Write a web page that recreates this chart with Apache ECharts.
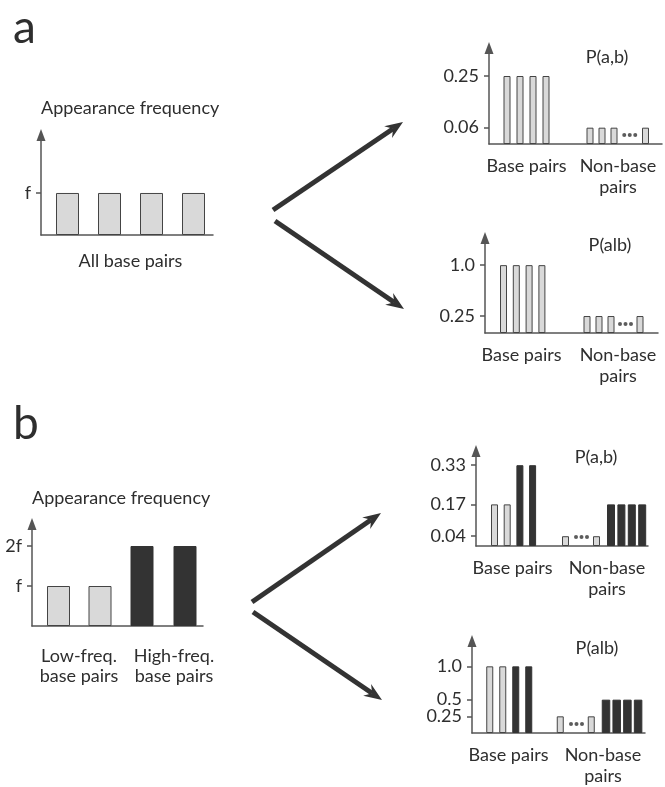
<!DOCTYPE html>
<html>
<head>
<meta charset="utf-8">
<title>base pair probabilities</title>
<script src="https://cdn.jsdelivr.net/npm/echarts@6.0.0/dist/echarts.min.js"></script>
<style>
  html, body { margin: 0; padding: 0; background: #fff; }
  #chart { width: 665px; height: 787px; }
</style>
</head>
<body>
<div id="chart"></div>
<script>
// ---------- panel a : every base pair appears with the same frequency ----------
const aGroups = ['All base pairs'];
const aFreq = [1, 1, 1, 1];                 // in units of f
const aFreqTicks = [1];
const aFreqTickText = ['f'];

const pairGroups = ['Base pairs', 'Non-base\npairs'];
const aJointBase = [0.25, 0.25, 0.25, 0.25];
const aJointNon = [0.06, 0.06, 0.06, 0.06];  // last one sits after the dots
const aJointTicks = [0.06, 0.25];
const aJointTickText = ['0.06', '0.25'];
const aCondBase = [1.0, 1.0, 1.0, 1.0];
const aCondNon = [0.25, 0.25, 0.25, 0.25];
const aCondTicks = [0.25, 1.0];
const aCondTickText = ['0.25', '1.0'];

// ---------- panel b : low / high frequency base pairs ----------
const bGroups = ['Low-freq.\nbase pairs', 'High-freq.\nbase pairs'];
const bFreqLow = [1, 1];
const bFreqHigh = [2, 2];
const bFreqTicks = [1, 2];
const bFreqTickText = ['f', '2f'];
const bJointBaseLow = [0.17, 0.17];
const bJointBaseHigh = [0.33, 0.33];
const bJointNonLow = [0.04, 0.04];           // dots between them
const bJointNonHigh = [0.17, 0.17, 0.17, 0.17];
const bJointTicks = [0.04, 0.17, 0.33];
const bJointTickText = ['0.04', '0.17', '0.33'];
const bCondBaseLow = [1.0, 1.0];
const bCondBaseHigh = [1.0, 1.0];
const bCondNonLow = [0.25, 0.25];
const bCondNonHigh = [0.5, 0.5, 0.5, 0.5];
const bCondTicks = [0.25, 0.5, 1.0];
const bCondTickText = ['0.25', '0.5', '1.0'];

const FONT = 'Lato, "Open Sans", sans-serif';
const INK = '#2e2e2e';
const AXIS = '#555';
const LIGHT = '#d9d9d9';
const DARK = '#333';

// layout of the six small plots (px), groups = bar runs with start/step in px along the x axis
const panels = [
  { box: [41, 135, 172, 100], yMax: 2.38, name: 'Appearance frequency', nameGap: 27,
    ticks: aFreqTicks, tickText: aFreqTickText,
    labels: aGroups, labelAt: [89.5], labelMargin: 16, lineHeight: 21,
    groups: [{ vals: aFreq, start: 26.5, step: 42, w: 23 }] },
  { box: [489, 48, 173, 96], yMax: 0.353, title: 'P(a,b)', titleAt: [607, 57],
    ticks: aJointTicks, tickText: aJointTickText,
    labels: pairGroups, labelAt: [37.5, 129], labelMargin: 12, lineHeight: 21,
    groups: [{ vals: aJointBase, start: 18, step: 13, w: 7 },
             { vals: aJointNon, start: 101, step: 12, w: 7, dotsBefore: 3, gap: 19.5 }] },
  { box: [485, 238, 173, 95], yMax: 1.40, title: 'P(alb)', titleAt: [610, 245],
    ticks: aCondTicks, tickText: aCondTickText,
    labels: pairGroups, labelAt: [36.5, 133], labelMargin: 12, lineHeight: 21,
    groups: [{ vals: aCondBase, start: 18.5, step: 12.8, w: 7 },
             { vals: aCondNon, start: 102, step: 12, w: 7, dotsBefore: 3, gap: 17 }] },
  { box: [32, 524, 171, 102], yMax: 2.55, name: 'Appearance frequency', nameGap: 26,
    ticks: bFreqTicks, tickText: bFreqTickText,
    labels: bGroups, labelAt: [47, 142], labelMargin: 20, lineHeight: 20,
    groups: [{ vals: bFreqLow, start: 26.5, step: 41.5, w: 23 },
             { vals: bFreqHigh, start: 110, step: 43, w: 23, dark: true }] },
  { box: [476, 451, 172, 95], yMax: 0.388, title: 'P(a,b)', titleAt: [596, 457],
    ticks: bJointTicks, tickText: bJointTickText,
    labels: pairGroups, labelAt: [36.5, 131], labelMargin: 12, lineHeight: 21,
    groups: [{ vals: bJointBaseLow, start: 19, step: 12.7, w: 7 },
             { vals: bJointBaseHigh, start: 44.4, step: 12.7, w: 7, dark: true },
             { vals: bJointNonLow, start: 90, step: 12, w: 7, dotsBefore: 1, gap: 19 },
             { vals: bJointNonHigh, start: 135, step: 10.4, w: 8, dark: true }] },
  { box: [472, 641, 173, 94], yMax: 1.38, title: 'P(alb)', titleAt: [597, 648],
    ticks: bCondTicks, tickText: bCondTickText,
    labels: pairGroups, labelAt: [36.5, 131], labelMargin: 12, lineHeight: 21,
    groups: [{ vals: bCondBaseLow, start: 18.5, step: 13, w: 7 },
             { vals: bCondBaseHigh, start: 44.5, step: 13, w: 7, dark: true },
             { vals: bCondNonLow, start: 89, step: 12, w: 7, dotsBefore: 1, gap: 19 },
             { vals: bCondNonHigh, start: 134, step: 10.7, w: 8.5, dark: true }] }
];

function pick(list, text, v) {
  let k = list.findIndex(t => Math.abs(t - v) < 1e-9);
  return k < 0 ? '' : text[k];
}

const grid = [], xAxis = [], yAxis = [], series = [], graphic = [];
const tickFont = { color: INK, fontSize: 18, fontFamily: FONT };

panels.forEach((p, i) => {
  grid.push({ left: p.box[0], top: p.box[1], width: p.box[2], height: p.box[3] });

  xAxis.push({
    type: 'value', gridIndex: i, min: 0, max: p.box[2],
    axisLine: { show: true, onZero: false, lineStyle: { color: AXIS, width: 1.5 } },
    axisTick: { show: false },
    splitLine: { show: false },
    axisLabel: Object.assign({
      customValues: p.labelAt,
      formatter: v => pick(p.labelAt, p.labels, v),
      margin: p.labelMargin, lineHeight: p.lineHeight, align: 'center', verticalAlign: 'top'
    }, tickFont)
  });

  // labels split over two axes of the same grid, so close ticks (0.25 / 0.5) are both kept
  const even = p.ticks.filter((t, k) => k % 2 === 0);
  const odd = p.ticks.filter((t, k) => k % 2 === 1);
  yAxis.push({
    type: 'value', gridIndex: i, min: 0, max: p.yMax, position: 'left',
    name: p.name || '', nameLocation: 'end', nameGap: p.nameGap || 0,
    nameTextStyle: Object.assign({ align: 'left', verticalAlign: 'middle' }, tickFont),
    axisLine: { show: true, symbol: ['none', 'triangle'], symbolSize: [9, 12],
      lineStyle: { color: AXIS, width: 1.5 } },
    axisTick: { show: true, customValues: p.ticks, length: 5, lineStyle: { color: AXIS, width: 1.5 } },
    splitLine: { show: false },
    axisLabel: Object.assign({
      customValues: even,
      formatter: v => pick(p.ticks, p.tickText, v),
      margin: 10
    }, tickFont)
  });
  yAxis.push({
    type: 'value', gridIndex: i, min: 0, max: p.yMax, position: 'left', offset: 0,
    axisLine: { show: false }, axisTick: { show: false }, splitLine: { show: false },
    axisLabel: Object.assign({
      show: odd.length > 0,
      customValues: odd.length ? odd : [0],
      formatter: v => pick(p.ticks, p.tickText, v),
      margin: 10
    }, tickFont)
  });

  p.groups.forEach(g => {
    // x position of every bar, dots leave an extra gap inside a run
    const xs = g.vals.map((v, k) => g.start + k * g.step + (g.dotsBefore !== undefined && k >= g.dotsBefore ? g.gap : 0));
    series.push({
      type: 'bar', xAxisIndex: i, yAxisIndex: 2 * i,
      data: g.vals.map((v, k) => [xs[k], v]),
      barWidth: g.w, barGap: '-100%',
      itemStyle: { color: g.dark ? DARK : LIGHT, borderColor: g.dark ? DARK : '#444', borderWidth: 1 },
      silent: true
    });
    if (g.dotsBefore !== undefined) {
      const x0 = xs[g.dotsBefore - 1], x1 = xs[g.dotsBefore];
      const mid = (x0 + x1) / 2;
      series.push({
        type: 'scatter', xAxisIndex: i, yAxisIndex: 2 * i,
        data: [[mid - 5.5, 0], [mid, 0], [mid + 5.5, 0]],
        symbol: 'circle', symbolSize: 4, symbolOffset: [0, -9],
        itemStyle: { color: DARK }, clip: false, silent: true
      });
    }
  });

  if (p.title) {
    graphic.push({ type: 'text', x: p.titleAt[0], y: p.titleAt[1], silent: true,
      style: { text: p.title, fill: INK, font: '18px ' + FONT, align: 'center', verticalAlign: 'middle' } });
  }
});

// panel letters
graphic.push({ type: 'text', x: 13, y: 28, silent: true,
  style: { text: 'a', fill: INK, font: '46px ' + FONT, align: 'left', verticalAlign: 'middle' } });
graphic.push({ type: 'text', x: 13, y: 424, silent: true,
  style: { text: 'b', fill: INK, font: '46px ' + FONT, align: 'left', verticalAlign: 'middle' } });

// fork arrows
function arrow(x1, y1, x2, y2) {
  const a = Math.atan2(y2 - y1, x2 - x1);
  const ux = Math.cos(a), uy = Math.sin(a), px = -uy, py = ux;
  const L = 18, W = 7, N = 12;
  const bx = x2 - ux * L, by = y2 - uy * L;
  graphic.push({ type: 'line', silent: true,
    shape: { x1: x1, y1: y1, x2: x2 - ux * N, y2: y2 - uy * N },
    style: { stroke: DARK, lineWidth: 5 } });
  graphic.push({ type: 'polygon', silent: true,
    shape: { points: [[x2, y2], [bx + px * W, by + py * W], [x2 - ux * N, y2 - uy * N], [bx - px * W, by - py * W]] },
    style: { fill: DARK } });
}
arrow(273, 210, 403, 122);
arrow(275, 221, 404, 309);
arrow(252, 602, 381, 513);
arrow(253, 612, 382, 700);

const chart = echarts.init(document.getElementById('chart'), null, { renderer: 'canvas' });
chart.setOption({
  backgroundColor: '#fff',
  animation: false,
  grid: grid,
  xAxis: xAxis,
  yAxis: yAxis,
  series: series,
  graphic: graphic
});
</script>
</body>
</html>
